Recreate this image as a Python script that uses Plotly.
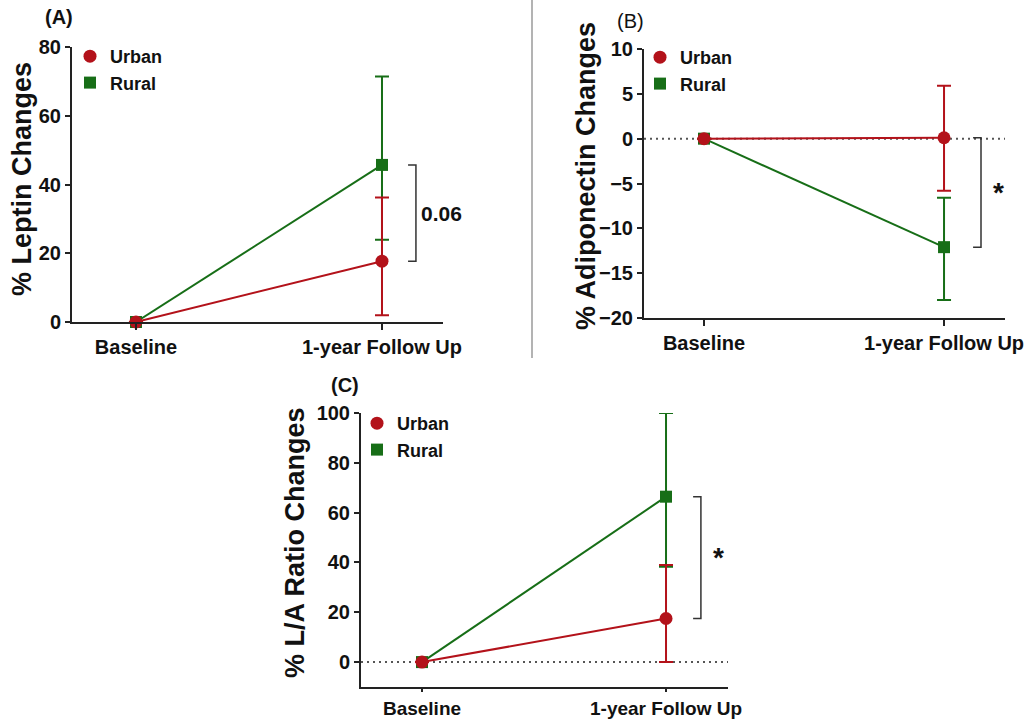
import plotly.graph_objects as go

# ---------------- data ----------------
categories = ["Baseline", "1-year Follow Up"]

leptin_urban = [0, 17.7]
leptin_urban_upper = [0, 36.2]
leptin_urban_lower = [0, 2.0]
leptin_rural = [0, 45.7]
leptin_rural_upper = [0, 71.4]
leptin_rural_lower = [0, 23.9]

adipo_urban = [0, 0.1]
adipo_urban_upper = [0, 5.9]
adipo_urban_lower = [0, -5.8]
adipo_rural = [0, -12.1]
adipo_rural_upper = [0, -6.6]
adipo_rural_lower = [0, -18.0]

ratio_urban = [0, 17.5]
ratio_urban_upper = [0, 39.0]
ratio_urban_lower = [0, 0.0]
ratio_rural = [0, 66.4]
ratio_rural_upper = [0, 100.0]
ratio_rural_lower = [0, 38.3]

leptin_ticks = [0, 20, 40, 60, 80]
adipo_ticks = [-20, -15, -10, -5, 0, 5, 10]
ratio_ticks = [0, 20, 40, 60, 80, 100]

# ---------------- style ----------------
RED = "#B3121A"
GREEN = "#176E17"
FONT = "Liberation Sans, Arial, sans-serif"
W, H = 1035, 720

xpos = list(range(len(categories)))

fig = go.Figure()


def add_series(mean, upper, lower, name, color, symbol, size, xa, ya):
    fig.add_trace(go.Scatter(
        x=xpos, y=mean, mode="lines+markers", name=name,
        line=dict(color=color, width=2),
        marker=dict(color=color, symbol=symbol, size=size),
        error_y=dict(type="data", symmetric=False,
                     array=[u - m for u, m in zip(upper, mean)],
                     arrayminus=[m - l for m, l in zip(mean, lower)],
                     color=color, thickness=2, width=7),
        xaxis=xa, yaxis=ya, showlegend=False, cliponaxis=False))


def add_legend_items(legend, xa, ya):
    fig.add_trace(go.Scatter(x=[None], y=[None], mode="markers", name="<b>Urban</b>",
                             marker=dict(color=RED, symbol="circle", size=13),
                             xaxis=xa, yaxis=ya, legend=legend, showlegend=True))
    fig.add_trace(go.Scatter(x=[None], y=[None], mode="markers", name="<b>Rural</b>",
                             marker=dict(color=GREEN, symbol="square", size=12),
                             xaxis=xa, yaxis=ya, legend=legend, showlegend=True))


panels = [
    ("x", "y", "legend", leptin_urban, leptin_urban_upper, leptin_urban_lower,
     leptin_rural, leptin_rural_upper, leptin_rural_lower),
    ("x2", "y2", "legend2", adipo_urban, adipo_urban_upper, adipo_urban_lower,
     adipo_rural, adipo_rural_upper, adipo_rural_lower),
    ("x3", "y3", "legend3", ratio_urban, ratio_urban_upper, ratio_urban_lower,
     ratio_rural, ratio_rural_upper, ratio_rural_lower),
]
for xa, ya, lg, um, uu, ul, rm, ru, rl in panels:
    add_series(rm, ru, rl, "Rural", GREEN, "square", 12, xa, ya)
    add_series(um, uu, ul, "Urban", RED, "circle", 13, xa, ya)
    add_legend_items(lg, xa, ya)


def px_x(p):
    return p / W


def px_y(p):
    return 1 - p / H


tickfont = dict(family=FONT, size=20, color="#111", weight="bold")
common_x = dict(showline=True, linecolor="#222", linewidth=2, ticks="outside",
                ticklen=6, tickwidth=2, tickcolor="#222", showgrid=False,
                zeroline=False, tickvals=xpos, ticktext=categories, tickfont=tickfont,
                automargin=False)
common_y = dict(showline=True, linecolor="#222", linewidth=2, ticks="outside",
                ticklen=5, tickwidth=2, tickcolor="#222", showgrid=False,
                zeroline=False, tickfont=tickfont, automargin=False)

legend_common = dict(font=dict(family=FONT, size=18, color="#111"),
                     bgcolor="rgba(0,0,0,0)", xanchor="left", yanchor="top",
                     itemwidth=30, tracegroupgap=0)

fig.update_layout(
    width=W, height=H, margin=dict(l=0, r=0, t=0, b=0, pad=0, autoexpand=False),
    paper_bgcolor="white", plot_bgcolor="white",
    font=dict(family=FONT, color="#111"),
    xaxis=dict(common_x, domain=[px_x(72), px_x(443)], range=[-0.26, 1.248], anchor="y"),
    yaxis=dict(common_y, domain=[px_y(322), px_y(47)], range=[0, 80],
               tickvals=leptin_ticks, anchor="x"),
    xaxis2=dict(common_x, domain=[px_x(644), px_x(1005)], range=[-0.25, 1.254], anchor="y2"),
    yaxis2=dict(common_y, domain=[px_y(318), px_y(49)], range=[-20, 10],
                tickvals=adipo_ticks, ticktext=[("−" + str(-v)) if v < 0 else str(v) for v in adipo_ticks],
                anchor="x2"),
    xaxis3=dict(common_x, domain=[px_x(361), px_x(728)], range=[-0.25, 1.254], anchor="y3",
                ticklen=3, tickfont=dict(tickfont, size=19)),
    yaxis3=dict(common_y, domain=[px_y(687), px_y(413)], range=[-10, 100],
                tickvals=ratio_ticks, anchor="x3"),
    legend=dict(legend_common, x=px_x(70), y=px_y(38)),
    legend2=dict(legend_common, x=px_x(640), y=px_y(39)),
    legend3=dict(legend_common, x=px_x(357), y=px_y(405)),
)

# dotted zero lines
for xa, ya in [("x2", "y2"), ("x3", "y3")]:
    fig.add_shape(type="line", xref=xa + " domain", yref=ya, x0=0, x1=1, y0=0, y1=0,
                  line=dict(color="#555", width=2, dash="2px,4px"), layer="below")

# significance brackets
def bracket(xa, ya, x0, x1, ytop, ybot):
    fig.add_shape(type="path", xref=xa, yref=ya,
                  path=f"M {x0},{ytop} L {x1},{ytop} L {x1},{ybot} L {x0},{ybot}",
                  line=dict(color="#333", width=1.5))

bracket("x", "y", 1.106, 1.138, leptin_rural[1], leptin_urban[1])
bracket("x2", "y2", 1.121, 1.154, adipo_urban[1], adipo_rural[1])
bracket("x3", "y3", 1.111, 1.143, ratio_rural[1], ratio_urban[1])

fig.add_annotation(xref="x", yref="y", x=1.15, y=(leptin_rural[1] + leptin_urban[1]) / 2,
                   text="<b>0.06</b>", showarrow=False, xanchor="left",
                   font=dict(family=FONT, size=21, color="#111"))
fig.add_annotation(xref="x2", yref="y2", x=1.225, y=(adipo_urban[1] + adipo_rural[1]) / 2,
                   text="<b>*</b>", showarrow=False,
                   font=dict(family=FONT, size=28, color="#111"))
fig.add_annotation(xref="x3", yref="y3", x=1.213, y=(ratio_rural[1] + ratio_urban[1]) / 2,
                   text="<b>*</b>", showarrow=False,
                   font=dict(family=FONT, size=28, color="#111"))

# axis titles
titles = [("% Leptin Changes", 22, 179), ("% Adiponectin Changes", 586, 176),
          ("% L/A Ratio Changes", 295, 543)]
for t, cx, cy in titles:
    fig.add_annotation(xref="paper", yref="paper", x=px_x(cx), y=px_y(cy), text=f"<b>{t}</b>",
                       textangle=-90, showarrow=False, xanchor="center", yanchor="middle",
                       font=dict(family=FONT, size=27, color="#111"))

# panel labels
for t, cx, cy, bold in [("(A)", 59, 17, True), ("(B)", 630, 21, False), ("(C)", 345, 385, True)]:
    fig.add_annotation(xref="paper", yref="paper", x=px_x(cx), y=px_y(cy),
                       text=f"<b>{t}</b>" if bold else t, showarrow=False,
                       xanchor="center", yanchor="middle",
                       font=dict(family=FONT, size=20, color="#111"))

# divider
fig.add_shape(type="line", xref="paper", yref="paper", x0=px_x(532), x1=px_x(532),
              y0=1, y1=px_y(358), line=dict(color="#9a9a9a", width=1.5))

fig.write_html("out.html")
